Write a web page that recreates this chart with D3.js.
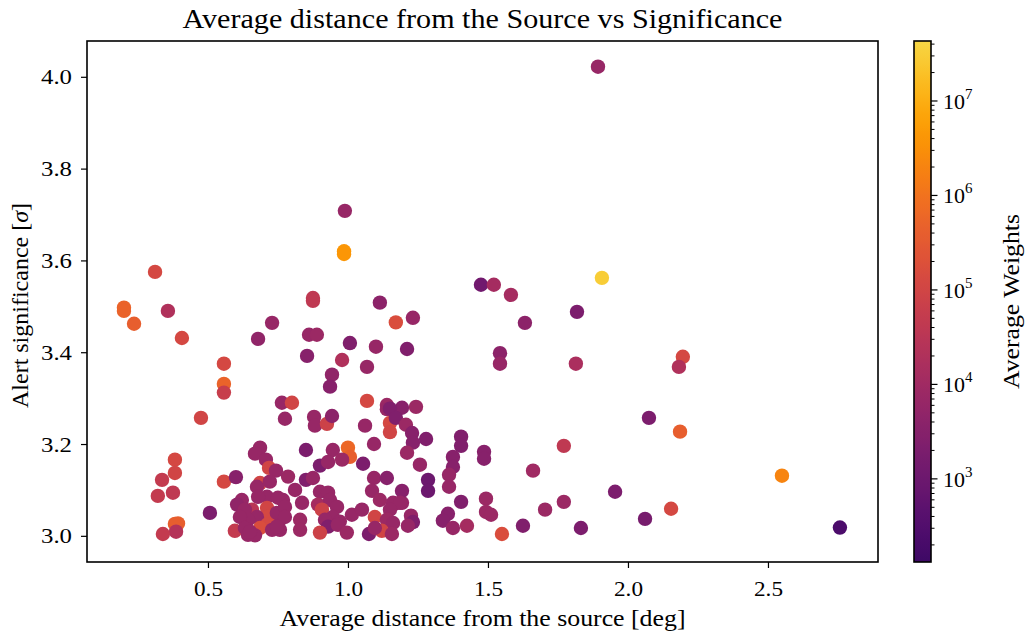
<!DOCTYPE html>
<html><head><meta charset="utf-8">
<script src="https://cdn.jsdelivr.net/npm/d3@7"></script>
<style>body{margin:0;background:#fff}svg{display:block}text{font-family:"Liberation Serif","DejaVu Serif",serif;fill:#000}</style>
</head><body>
<svg id="c" width="1025" height="635"></svg>
<script>
// ---- data ----
const distance = [0.200,0.200,0.236,0.311,0.357,0.407,0.557,0.557,0.557,0.475,0.382,0.382,0.336,0.321,0.375,0.393,0.382,0.386,0.339,0.557,0.600,0.507,0.596,0.729,0.679,
0.989,0.986,0.986,0.875,0.875,1.114,1.171,1.232,0.861,0.889,1.007,1.100,1.211,0.854,0.979,1.068,0.943,0.936,0.764,0.800,1.068,1.139,1.139,1.193,1.243,1.150,0.775,0.879,0.882,0.925,0.943,1.061,1.150,1.150,1.171,1.207,1.229,1.279,1.232,1.211,1.257,1.093,
1.404,1.404,1.375,1.375,1.361,1.361,1.486,1.486,1.286,1.286,1.475,1.521,1.582,1.632,1.543,1.543,1.818,1.814,2.196,2.182,2.075,2.186,1.771,2.550,1.954,1.771,2.154,2.061,1.832,2.757,1.893,1.907,1.661,1.704,1.493,1.493,1.511,1.404,1.550,1.625,1.357,1.339,1.375,1.425,
1.225,1.232,1.214,1.168,1.193,1.054,1.093,1.139,1.086,1.193,1.114,1.161,1.186,1.150,1.096,1.139,1.161,1.121,1.157,1.075,
0.850,0.946,1.000,1.007,0.979,0.900,0.929,0.786,0.850,0.875,0.811,0.900,0.929,0.768,0.836,0.893,0.936,0.907,0.961,0.946,0.918,0.971,0.929,0.964,1.014,1.050,0.829,0.829,0.900,0.996,1.096,0.757,0.757,
0.686,0.668,0.707,0.718,0.743,0.686,0.675,0.721,0.711,0.679,0.750,0.621,0.604,0.657,0.632,0.711,0.714,0.675,0.746,0.775,0.775,0.643,0.614,0.711,0.686,0.729,0.632,0.643,0.668,0.746,0.650];
const significance = [3.497,3.490,3.462,3.575,3.490,3.431,3.375,3.331,3.312,3.257,3.166,3.137,3.122,3.087,3.094,3.027,3.026,3.009,3.004,3.118,3.128,3.050,3.011,3.464,3.429,
3.708,3.620,3.614,3.518,3.512,3.508,3.465,3.475,3.438,3.438,3.420,3.412,3.407,3.392,3.383,3.368,3.351,3.325,3.290,3.290,3.294,3.285,3.276,3.279,3.281,3.277,3.255,3.259,3.240,3.244,3.261,3.240,3.246,3.226,3.257,3.242,3.224,3.211,3.203,3.181,3.155,3.200,
3.216,3.196,3.172,3.150,3.133,3.107,3.183,3.168,3.122,3.098,3.547,3.547,3.525,3.464,3.398,3.375,3.488,3.375,3.390,3.368,3.257,3.227,3.196,3.131,3.096,3.074,3.059,3.037,3.017,3.018,4.022,3.562,3.142,3.057,3.081,3.052,3.046,3.074,3.004,3.022,3.048,3.033,3.017,3.022,
3.044,3.030,3.022,3.070,3.072,3.157,3.126,3.126,3.098,3.098,3.078,3.072,3.072,3.057,3.041,3.035,3.028,3.011,3.004,3.004,
3.187,3.187,3.192,3.172,3.166,3.153,3.161,3.129,3.122,3.126,3.100,3.096,3.094,3.078,3.072,3.068,3.078,3.057,3.063,3.041,3.035,3.031,3.020,3.024,3.046,3.057,3.035,3.013,3.007,3.007,3.017,3.035,3.013,
3.192,3.179,3.166,3.148,3.142,3.115,3.107,3.118,3.085,3.085,3.083,3.078,3.068,3.057,3.057,3.061,3.041,3.041,3.050,3.063,3.041,3.035,3.041,3.024,3.017,3.013,3.017,3.002,3.001,3.020,3.009];
// log10 of average weight
const logWeight = [5.7,5.7,5.6,5.1,4.3,5.1,5.1,5.7,4.8,5.0,5.1,5.0,4.7,4.7,4.6,5.6,5.6,4.4,4.7,5.1,3.5,3.3,4.7,3.8,3.7,
3.8,6.6,6.6,4.6,4.6,3.6,5.2,3.8,3.8,3.9,3.4,3.8,3.4,3.5,4.3,3.8,3.7,3.5,3.8,5.0,5.1,3.9,3.8,3.5,3.9,3.4,3.8,3.8,3.8,4.9,3.6,3.8,5.1,5.0,3.4,3.9,3.5,3.4,3.5,3.9,3.8,3.8,
3.4,3.4,3.5,3.5,3.8,3.8,3.5,3.5,3.0,3.0,3.1,4.1,4.1,3.6,3.6,3.8,3.3,4.2,5.1,4.3,3.3,5.6,4.6,6.3,3.3,3.9,5.1,3.2,3.3,2.4,3.8,7.5,4.0,3.9,3.9,3.9,3.9,3.4,5.2,3.4,3.5,3.5,3.8,4.1,
3.8,3.4,3.8,3.8,3.8,3.3,3.8,3.5,3.8,3.5,3.9,3.8,3.8,3.8,5.0,3.9,3.8,5.0,3.9,3.3,
3.3,3.8,5.8,5.6,3.9,3.3,3.8,3.9,3.4,3.8,3.8,3.8,3.8,3.8,3.8,4.1,3.8,4.9,3.8,3.8,3.8,3.8,3.4,3.8,3.8,3.8,3.9,3.9,4.9,3.9,3.8,3.8,3.8,
3.8,3.8,3.8,5.0,3.8,5.0,3.8,3.8,3.8,3.8,3.8,3.8,3.7,4.5,3.8,5.0,5.1,3.8,3.8,3.8,3.8,3.8,3.8,5.1,5.2,3.8,3.8,3.8,3.8,3.8,3.8];
const xTicks = [0.5,1.0,1.5,2.0,2.5];
const yTicks = [3.0,3.2,3.4,3.6,3.8,4.0];
const cbTicks = [3,4,5,6,7];
const title = "Average distance from the Source vs Significance";
const xLabel = "Average distance from the source [deg]";
const yLabel = "Alert significance [";
const cbLabel = "Average Weights";

// ---- layout ----
const svg = d3.select("#c");
const L = 87, R = 878, T = 41, B = 562;
const x = d3.scaleLinear().domain([0.068, 2.893]).range([L, R]);
const y = d3.scaleLinear().domain([2.943, 4.078]).range([B, T]);
const wMin = 2.12, wMax = 7.635;
const cmapLo = 0.19, cmapHi = 0.9;
const color = v => d3.interpolateInferno(cmapLo + (cmapHi - cmapLo) * Math.max(0, Math.min(1, (v - wMin) / (wMax - wMin))));

// points
const pts = distance.map((d, i) => ({d, s: significance[i], w: logWeight[i]}));
svg.append("g").selectAll("circle").data(pts).join("circle")
  .attr("cx", p => x(p.d)).attr("cy", p => y(p.s)).attr("r", 7.2)
  .attr("fill", p => color(p.w));

// frame
svg.append("rect").attr("x", L).attr("y", T).attr("width", R - L).attr("height", B - T)
  .attr("fill", "none").attr("stroke", "#000").attr("stroke-width", 1.6);

// axes
const xAx = svg.append("g").attr("transform", `translate(0,${B})`)
  .call(d3.axisBottom(x).tickValues(xTicks).tickFormat(d3.format(".1f")).tickSize(6).tickPadding(12));
const yAx = svg.append("g").attr("transform", `translate(${L},0)`)
  .call(d3.axisLeft(y).tickValues(yTicks).tickFormat(d3.format(".1f")).tickSize(6).tickPadding(9));
[xAx, yAx].forEach(a => {
  a.select(".domain").remove();
  a.selectAll(".tick line").attr("stroke", "#000").attr("stroke-width", 1.2);
  a.selectAll(".tick text").style("font-family", '"Liberation Serif",serif').style("font-size", "22px").attr("fill", "#000");
});
xAx.selectAll(".tick text").attr("textLength", 29).attr("lengthAdjust", "spacingAndGlyphs");
yAx.selectAll(".tick text").attr("textLength", 31).attr("lengthAdjust", "spacingAndGlyphs");

// titles
svg.append("text").attr("x", (L + R) / 2).attr("y", 28).attr("text-anchor", "middle")
  .attr("textLength", 600).attr("lengthAdjust", "spacingAndGlyphs")
  .style("font-size", "27px").text(title);
svg.append("text").attr("x", (L + R) / 2).attr("y", 626).attr("text-anchor", "middle")
  .attr("textLength", 406).attr("lengthAdjust", "spacingAndGlyphs")
  .style("font-size", "23px").text(xLabel);
const yl = svg.append("text").attr("transform", `translate(28,${(T + B) / 2 + 4}) rotate(-90)`)
  .attr("text-anchor", "middle").attr("textLength", 205).attr("lengthAdjust", "spacingAndGlyphs")
  .style("font-size", "23px");
yl.append("tspan").text(yLabel);
yl.append("tspan").style("font-style", "italic").text("σ");
yl.append("tspan").text("]");

// colorbar
const cbX = 914, cbW = 17;
const cbScale = d3.scaleLinear().domain([wMin, wMax]).range([B, T]);
const defs = svg.append("defs");
const grad = defs.append("linearGradient").attr("id", "cbg").attr("x1", 0).attr("x2", 0).attr("y1", 1).attr("y2", 0);
d3.range(0, 1.0001, 0.02).forEach(t => grad.append("stop").attr("offset", t).attr("stop-color", color(wMin + t * (wMax - wMin))));
svg.append("rect").attr("x", cbX).attr("y", T).attr("width", cbW).attr("height", B - T).attr("fill", "url(#cbg)");
svg.append("rect").attr("x", cbX).attr("y", T).attr("width", cbW).attr("height", B - T)
  .attr("fill", "none").attr("stroke", "#000").attr("stroke-width", 1.6);
// minor ticks
const minors = [];
for (let e = 2; e <= 7; e++) for (let m = 2; m <= 9; m++) {
  const v = e + Math.log10(m);
  if (v > wMin && v < wMax) minors.push(v);
}
svg.append("g").selectAll("line").data(minors).join("line")
  .attr("x1", cbX + cbW).attr("x2", cbX + cbW + 3.5).attr("y1", v => cbScale(v)).attr("y2", v => cbScale(v))
  .attr("stroke", "#000").attr("stroke-width", 1);
const cbt = svg.append("g").selectAll("g").data(cbTicks).join("g")
  .attr("transform", v => `translate(${cbX + cbW},${cbScale(v)})`);
cbt.append("line").attr("x2", 6.5).attr("stroke", "#000").attr("stroke-width", 1.2);
const tt = cbt.append("text").attr("x", 12).attr("y", 8).style("font-size", "22px");
tt.append("tspan").text("10");
tt.append("tspan").attr("dy", -10).style("font-size", "15px").text(v => v);
svg.append("text").attr("transform", `translate(1019,${(T + B) / 2}) rotate(-90)`)
  .attr("text-anchor", "middle").attr("textLength", 175).attr("lengthAdjust", "spacingAndGlyphs")
  .style("font-size", "23px").text(cbLabel);
</script>
</body></html>
